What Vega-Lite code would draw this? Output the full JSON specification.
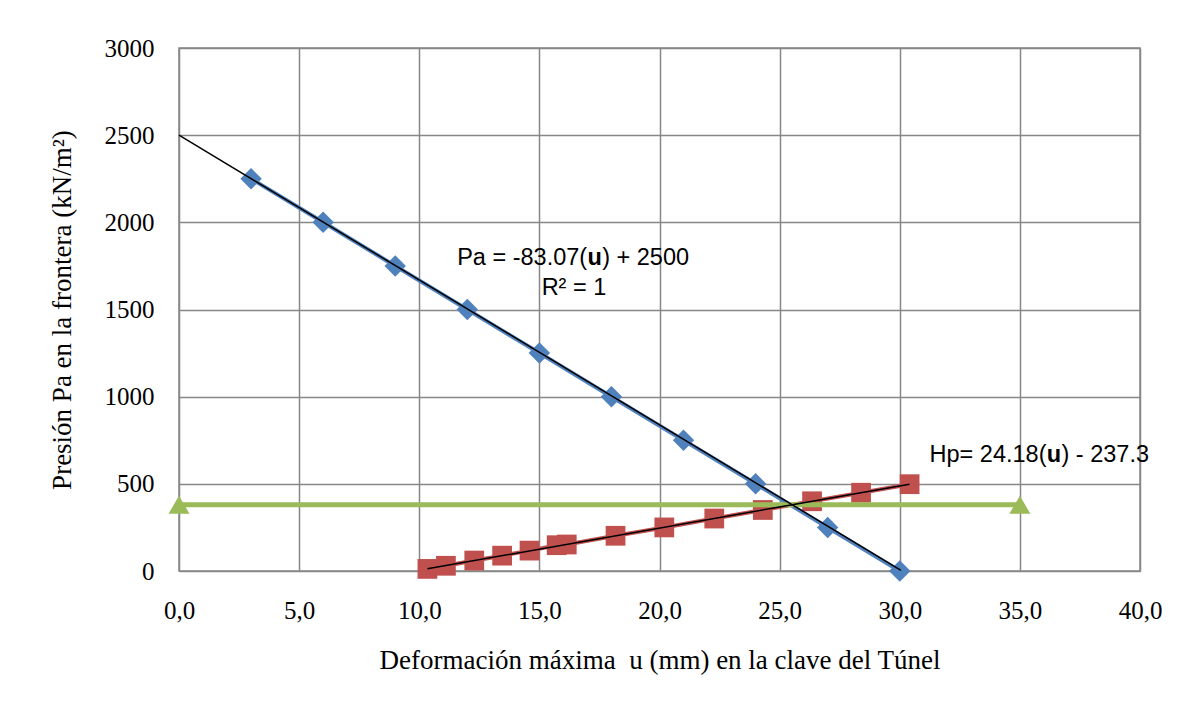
{
  "$schema": "https://vega.github.io/schema/vega-lite/v6.json",
  "width": 961,
  "height": 523,
  "autosize": {"type": "none"},
  "padding": {"left": 179, "top": 48, "right": 52, "bottom": 133},
  "background": "white",
  "config": {
    "view": {"stroke": "#878787", "strokeWidth": 1.5},
    "axis": {
      "grid": true,
      "gridColor": "#878787",
      "gridWidth": 1.5,
      "gridOpacity": 1,
      "domain": false,
      "ticks": false,
      "labelFlush": false,
      "labelFont": "Liberation Serif",
      "labelFontSize": 25,
      "labelColor": "#000000",
      "titleFont": "Liberation Serif",
      "titleFontSize": 27,
      "titleFontWeight": "normal",
      "titleColor": "#000000"
    }
  },
  "datasets": {
    "pa": [
      {"u": 3, "p": 2250}, {"u": 6, "p": 2000}, {"u": 9, "p": 1750}, {"u": 12, "p": 1500},
      {"u": 15, "p": 1250}, {"u": 18, "p": 1000}, {"u": 21, "p": 750}, {"u": 24, "p": 500},
      {"u": 27, "p": 250}, {"u": 30, "p": 0}
    ],
    "hp": [
      {"u": 10.34, "p": 12}, {"u": 11.11, "p": 30}, {"u": 12.29, "p": 60}, {"u": 13.45, "p": 88},
      {"u": 14.59, "p": 117}, {"u": 15.72, "p": 148}, {"u": 16.14, "p": 152}, {"u": 18.17, "p": 202},
      {"u": 20.2, "p": 250}, {"u": 22.28, "p": 301}, {"u": 24.3, "p": 350}, {"u": 26.35, "p": 400},
      {"u": 28.39, "p": 449}, {"u": 30.41, "p": 498}
    ],
    "green": [{"u": 0, "p": 380}, {"u": 35, "p": 380}],
    "trend": [
      {"s": "Pa", "u": 0, "p": 2500}, {"s": "Pa", "u": 30.05, "p": 4},
      {"s": "Hp", "u": 10.34, "p": 12.7}, {"s": "Hp", "u": 30.41, "p": 498}
    ],
    "labels": [
      {"u": 17.3, "p": 1755, "a": "Pa = -83.07(", "b": "u", "c": ") + 2500"},
      {"u": 36.42, "p": 625, "a": "Hp= 24.18(", "b": "u", "c": ") - 237.3"}
    ],
    "r2": [{"u": 16.44, "p": 1583, "t": "R² = 1"}]
  },
  "layer": [
    {
      "data": {"name": "pa"},
      "mark": {"type": "line", "color": "#4F81BD", "strokeWidth": 4},
      "encoding": {
        "x": {
          "field": "u", "type": "quantitative",
          "scale": {"domain": [0, 40], "nice": false},
          "axis": {
            "values": [0, 5, 10, 15, 20, 25, 30, 35, 40],
            "labelExpr": "replace(format(datum.value, '.1f'), '.', ',')",
            "labelPadding": 27,
            "titlePadding": 24,
            "title": "Deformación máxima\u00a0 u (mm) en la clave del Túnel"
          }
        },
        "y": {
          "field": "p", "type": "quantitative",
          "scale": {"domain": [0, 3000], "nice": false},
          "axis": {
            "values": [0, 500, 1000, 1500, 2000, 2500, 3000],
            "format": "d",
            "labelPadding": 25,
            "titlePadding": 28,
            "title": "Presión Pa en la frontera (kN/m²)"
          }
        }
      }
    },
    {
      "data": {"name": "pa"},
      "mark": {"type": "point", "shape": "diamond", "filled": true, "color": "#4F81BD", "opacity": 1, "size": 460},
      "encoding": {
        "x": {"field": "u", "type": "quantitative", "scale": {"domain": [0, 40], "nice": false}},
        "y": {"field": "p", "type": "quantitative", "scale": {"domain": [0, 3000], "nice": false}}
      }
    },
    {
      "data": {"name": "hp"},
      "mark": {"type": "line", "color": "#C0504D", "strokeWidth": 4},
      "encoding": {
        "x": {"field": "u", "type": "quantitative", "scale": {"domain": [0, 40], "nice": false}},
        "y": {"field": "p", "type": "quantitative", "scale": {"domain": [0, 3000], "nice": false}}
      }
    },
    {
      "data": {"name": "hp"},
      "mark": {"type": "point", "shape": "square", "filled": true, "color": "#C0504D", "opacity": 1, "size": 390},
      "encoding": {
        "x": {"field": "u", "type": "quantitative", "scale": {"domain": [0, 40], "nice": false}},
        "y": {"field": "p", "type": "quantitative", "scale": {"domain": [0, 3000], "nice": false}}
      }
    },
    {
      "data": {"name": "green"},
      "mark": {"type": "line", "color": "#9BBB59", "strokeWidth": 5},
      "encoding": {
        "x": {"field": "u", "type": "quantitative", "scale": {"domain": [0, 40], "nice": false}},
        "y": {"field": "p", "type": "quantitative", "scale": {"domain": [0, 3000], "nice": false}}
      }
    },
    {
      "data": {"name": "green"},
      "mark": {"type": "point", "shape": "triangle-up", "filled": true, "color": "#9BBB59", "opacity": 1, "size": 440},
      "encoding": {
        "x": {"field": "u", "type": "quantitative", "scale": {"domain": [0, 40], "nice": false}},
        "y": {"field": "p", "type": "quantitative", "scale": {"domain": [0, 3000], "nice": false}}
      }
    },
    {
      "data": {"name": "trend"},
      "mark": {"type": "line", "color": "#000000", "strokeWidth": 1.5},
      "encoding": {
        "detail": {"field": "s"},
        "x": {"field": "u", "type": "quantitative", "scale": {"domain": [0, 40], "nice": false}},
        "y": {"field": "p", "type": "quantitative", "scale": {"domain": [0, 3000], "nice": false}}
      }
    },
    {
      "data": {"name": "labels"},
      "mark": {"type": "text", "font": "Liberation Sans", "fontSize": 23.5, "fontWeight": "bold", "align": "center", "baseline": "alphabetic", "color": "#000000"},
      "encoding": {
        "text": {"field": "b"},
        "x": {"field": "u", "type": "quantitative", "scale": {"domain": [0, 40], "nice": false}},
        "y": {"field": "p", "type": "quantitative", "scale": {"domain": [0, 3000], "nice": false}}
      }
    },
    {
      "data": {"name": "labels"},
      "mark": {"type": "text", "font": "Liberation Sans", "fontSize": 23.5, "align": "right", "baseline": "alphabetic", "dx": -7.5, "color": "#000000"},
      "encoding": {
        "text": {"field": "a"},
        "x": {"field": "u", "type": "quantitative", "scale": {"domain": [0, 40], "nice": false}},
        "y": {"field": "p", "type": "quantitative", "scale": {"domain": [0, 3000], "nice": false}}
      }
    },
    {
      "data": {"name": "labels"},
      "mark": {"type": "text", "font": "Liberation Sans", "fontSize": 23.5, "align": "left", "baseline": "alphabetic", "dx": 7.5, "color": "#000000"},
      "encoding": {
        "text": {"field": "c"},
        "x": {"field": "u", "type": "quantitative", "scale": {"domain": [0, 40], "nice": false}},
        "y": {"field": "p", "type": "quantitative", "scale": {"domain": [0, 3000], "nice": false}}
      }
    },
    {
      "data": {"name": "r2"},
      "mark": {"type": "text", "font": "Liberation Sans", "fontSize": 23.5, "align": "center", "baseline": "alphabetic", "color": "#000000"},
      "encoding": {
        "text": {"field": "t"},
        "x": {"field": "u", "type": "quantitative", "scale": {"domain": [0, 40], "nice": false}},
        "y": {"field": "p", "type": "quantitative", "scale": {"domain": [0, 3000], "nice": false}}
      }
    }
  ]
}
